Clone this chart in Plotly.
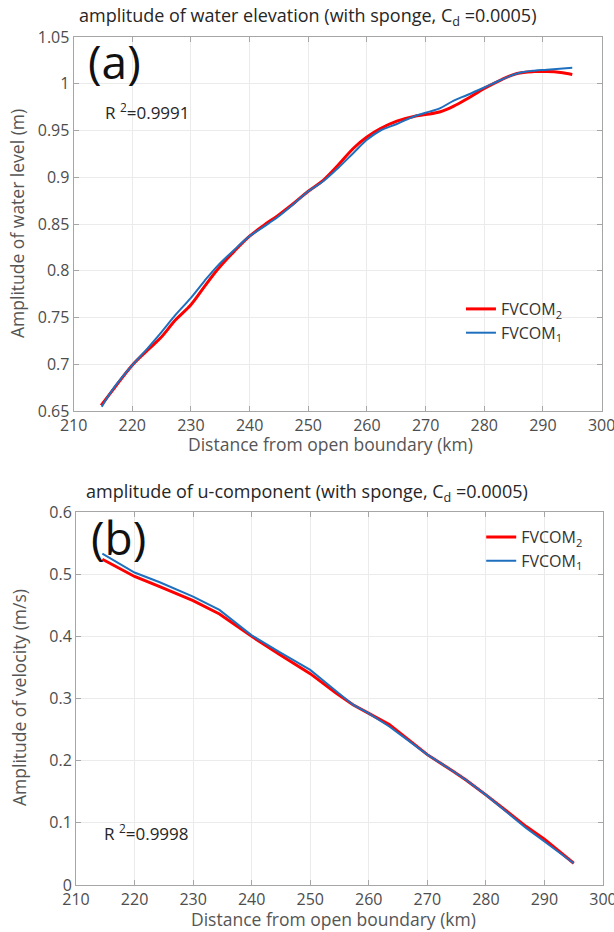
import plotly.graph_objects as go

# ---- data ----
x_elev_red = [214.7, 217, 220, 222.6, 224.8, 227.4, 230, 232.3, 234.5, 237.4, 240, 242.5, 244.8, 247.6, 250,
              252.6, 255.1, 257.7, 260, 262.3, 265.1, 268, 270, 272.5, 274.8, 277.1, 280, 282.8, 285.6, 288.5,
              290.7, 293, 295]
elev_red = [0.656, 0.675, 0.699, 0.715, 0.728, 0.7475, 0.7636, 0.783, 0.801, 0.821, 0.837, 0.849, 0.859, 0.8725, 0.885,
            0.897, 0.913, 0.931, 0.943, 0.952, 0.960, 0.965, 0.967, 0.970, 0.976, 0.984, 0.995, 1.004, 1.011, 1.013,
            1.013, 1.012, 1.010]
x_elev_blue = [214.8, 217, 220, 222.6, 224.8, 227.4, 230, 232.3, 234.5, 237.4, 240, 242.5, 244.8, 247.6, 250,
               252.6, 255.1, 257.7, 260, 262.3, 265.1, 268, 270, 272.5, 274.8, 277.1, 280, 282.8, 285.6, 288.5,
               290.7, 295]
elev_blue = [0.6546, 0.676, 0.699, 0.717, 0.733, 0.753, 0.771, 0.789, 0.805, 0.8225, 0.837, 0.8475, 0.8575, 0.872, 0.885,
             0.896, 0.910, 0.926, 0.940, 0.950, 0.957, 0.965, 0.969, 0.974, 0.982, 0.988, 0.996, 1.004, 1.011, 1.014,
             1.015, 1.017]

x_vel = [214.5, 220, 224.3, 230, 234.5, 240, 244.7, 250, 254.4, 257.3, 260, 263.5, 265.8, 270, 274.4, 276.6, 280,
         283.5, 286.9, 290, 295]
vel_red = [0.524, 0.4963, 0.480, 0.4574, 0.436, 0.400, 0.371, 0.340, 0.309, 0.290, 0.276, 0.258, 0.241, 0.2097,
           0.183, 0.169, 0.145, 0.119, 0.094, 0.0737, 0.035]
vel_blue = [0.533, 0.5027, 0.487, 0.464, 0.4426, 0.4016, 0.375, 0.346, 0.312, 0.290, 0.276, 0.255, 0.239, 0.2097,
            0.183, 0.169, 0.145, 0.118, 0.0914, 0.070, 0.035]

x_ticks = [210, 220, 230, 240, 250, 260, 270, 280, 290, 300]
elev_ticks = [0.65, 0.7, 0.75, 0.8, 0.85, 0.9, 0.95, 1.0, 1.05]
vel_ticks = [0, 0.1, 0.2, 0.3, 0.4, 0.5, 0.6]

RED = "#ff0000"
BLUE = "#1f6fbf"
FONT = "Open Sans"
W, H = 614, 932

fig = go.Figure()
fig.add_trace(go.Scatter(x=x_elev_red, y=elev_red, mode="lines", line=dict(color=RED, width=3, shape="spline"),
                         name="FVCOM<sub>2</sub>", xaxis="x", yaxis="y", legend="legend"))
fig.add_trace(go.Scatter(x=x_elev_blue, y=elev_blue, mode="lines", line=dict(color=BLUE, width=2, shape="spline"),
                         name="FVCOM<sub>1</sub>", xaxis="x", yaxis="y", legend="legend"))
fig.add_trace(go.Scatter(x=x_vel, y=vel_red, mode="lines", line=dict(color=RED, width=3),
                         name="FVCOM<sub>2</sub>", xaxis="x2", yaxis="y2", legend="legend2"))
fig.add_trace(go.Scatter(x=x_vel, y=vel_blue, mode="lines", line=dict(color=BLUE, width=2),
                         name="FVCOM<sub>1</sub>", xaxis="x2", yaxis="y2", legend="legend2"))

axis_common = dict(showline=True, linecolor="#a6a6a6", linewidth=1, mirror="ticks", ticks="inside",
                   ticklen=5, tickcolor="#a6a6a6", showgrid=True, gridcolor="#ebebeb", gridwidth=1,
                   zeroline=False, ticklabeloverflow="allow", automargin=False,
                   tickfont=dict(family=FONT, size=16, color="#4d4d4d"))
title_font = dict(family=FONT, size=17.5, color="#555555")
leg_font = dict(family=FONT, size=16, color="#333333")

fig.update_layout(
    width=W, height=H, margin=dict(l=0, r=0, t=0, b=0, autoexpand=False),
    paper_bgcolor="white", plot_bgcolor="white",
    font=dict(family=FONT, color="#333333"),
    xaxis=dict(domain=[73.6 / W, 601.6 / W], anchor="y", range=[210, 300], tickvals=x_ticks, **axis_common),
    yaxis=dict(domain=[1 - 411 / H, 1 - 37 / H], anchor="x", range=[0.65, 1.05], tickvals=elev_ticks,
               **axis_common),
    xaxis2=dict(domain=[76 / W, 603 / W], anchor="y2", range=[210, 300], tickvals=x_ticks, **axis_common),
    yaxis2=dict(domain=[1 - 885 / H, 1 - 512 / H], anchor="x2", range=[0, 0.6], tickvals=vel_ticks,
                **axis_common),
    legend=dict(x=0.925, y=1 - 321 / H, xanchor="right", yanchor="middle", xref="paper", yref="paper",
                bgcolor="rgba(0,0,0,0)", font=leg_font, tracegroupgap=0, itemwidth=30),
    legend2=dict(x=0.958, y=1 - 549 / H, xanchor="right", yanchor="middle", xref="paper", yref="paper",
                 bgcolor="rgba(0,0,0,0)", font=leg_font, tracegroupgap=0, itemwidth=30),
    showlegend=True,
)

ann = [
    dict(text="amplitude of water elevation (with sponge, C<sub>d</sub> =0.0005)", x=0.5, y=1 - 16 / H,
         xref="paper", yref="paper", showarrow=False, yanchor="middle",
         font=dict(family=FONT, size=18, color="#262626")),
    dict(text="amplitude of u-component (with sponge, C<sub>d</sub> =0.0005)", x=0.5, y=1 - 492 / H,
         xref="paper", yref="paper", showarrow=False, yanchor="middle",
         font=dict(family=FONT, size=18, color="#262626")),
    # axis titles
    dict(text="Distance from open boundary (km)", x=330 / W, y=1 - 444 / H, xref="paper", yref="paper",
         showarrow=False, yanchor="middle", font=title_font),
    dict(text="Distance from open boundary (km)", x=333 / W, y=1 - 919 / H, xref="paper", yref="paper",
         showarrow=False, yanchor="middle", font=title_font),
    dict(text="Amplitude of water level (m)", x=17 / W, y=1 - 224 / H, xref="paper", yref="paper",
         showarrow=False, textangle=-90, xanchor="center", yanchor="middle", font=title_font),
    dict(text="Amplitude of velocity (m/s)", x=19 / W, y=1 - 698 / H, xref="paper", yref="paper",
         showarrow=False, textangle=-90, xanchor="center", yanchor="middle", font=title_font),
    # panel labels
    dict(text="(a)", x=0.024, y=1.0, xref="x domain", yref="y domain", showarrow=False, xanchor="left",
         yanchor="top", yshift=9, font=dict(family=FONT, size=46, color="#111111")),
    dict(text="(b)", x=0.024, y=1.0, xref="x2 domain", yref="y2 domain", showarrow=False, xanchor="left",
         yanchor="top", yshift=8, font=dict(family=FONT, size=46, color="#111111")),
    dict(text="R <sup>2</sup>=0.9991", x=0.055, y=1 - 112 / H, xref="x domain", yref="paper", showarrow=False,
         xanchor="left", yanchor="middle", font=dict(family=FONT, size=17, color="#262626")),
    dict(text="R <sup>2</sup>=0.9998", x=0.05, y=1 - 832 / H, xref="x2 domain", yref="paper", showarrow=False,
         xanchor="left", yanchor="middle", font=dict(family=FONT, size=17, color="#262626")),
]
fig.update_layout(annotations=ann)

fig.write_html("out.html")
